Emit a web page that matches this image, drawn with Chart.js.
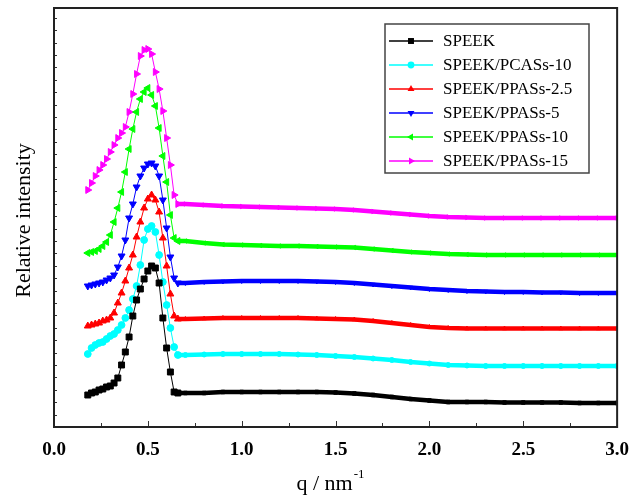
<!DOCTYPE html>
<html>
<head>
<meta charset="utf-8">
<script src="https://cdn.jsdelivr.net/npm/chart.js@4.4.1/dist/chart.umd.min.js"></script>
<style>
    html, body { margin: 0; padding: 0; background: #fff; }
    #wrap { width: 641px; height: 496px; }
</style>
</head>
<body>
<div id="wrap"><canvas id="myChart" width="641" height="496"></canvas></div>
<script>
// q values (nm^-1): fine steps across the peak, coarser across the plateau
const qPeak = [0.18, 0.20, 0.22, 0.24, 0.26, 0.28, 0.30, 0.32, 0.34, 0.36, 0.38, 0.40, 0.42,
               0.44, 0.46, 0.48, 0.50, 0.52, 0.54, 0.56, 0.58, 0.60, 0.62, 0.64, 0.66];
const qFlat = [0.7, 0.8, 0.9, 1.0, 1.1, 1.2, 1.3, 1.4, 1.5, 1.6, 1.7, 1.8, 1.9, 2.0,
               2.1, 2.2, 2.3, 2.4, 2.5, 2.6, 2.7, 2.8, 2.9, 3.0];

// relative intensity (arbitrary units, curves stacked with offsets)
const speekPeak = [32, 34, 35, 37, 38, 40, 41, 44, 49, 62, 75, 90, 111, 127, 138, 148, 156, 161, 159, 144, 109, 79, 55, 35, 34];
const speekFlat = [34, 34, 35, 35, 35, 35, 35, 35, 34.5, 33.5, 32, 30, 28, 26.5, 25, 25, 25, 24.5, 24.5, 24.5, 24.5, 24, 24, 24];

const pcas10Peak = [73, 79, 82, 84, 85, 88, 91, 93, 97, 102, 109, 117, 128, 141, 162, 187, 198, 201, 195, 172, 145, 122, 99, 80, 72];
const pcas10Flat = [72, 72.5, 73, 73, 73, 73, 72.5, 72, 71, 70, 68.5, 67, 65, 63.5, 62, 61.5, 61, 61, 61, 61, 61, 61, 61, 61];

const ppas25Peak = [101, 102, 103, 104, 106, 107, 109, 114, 124, 134, 146, 159, 172, 190, 205, 219, 228, 232, 227, 215, 189, 161, 133, 111, 108];
const ppas25Flat = [108, 108.5, 109, 109, 109, 109, 109, 108.5, 108, 107.5, 106, 104, 102, 100, 99, 98.5, 98.5, 98.5, 98.5, 98.5, 98.5, 98.5, 98.5, 98.5];

const ppas5Peak = [141, 142, 143, 144, 145, 147, 149, 152, 160, 171, 187, 209, 223, 240, 251, 259, 263, 264, 261, 251, 227, 199, 170, 149, 144];
const ppas5Flat = [144, 145, 145.5, 146, 146, 146, 146, 145.5, 145, 144, 142.5, 141, 139.5, 138, 137, 136, 135.5, 135, 135, 134.5, 134.5, 134, 134, 134];

const ppas10Peak = [174, 175, 176, 178, 181, 185, 192, 205, 219, 235, 255, 278, 298, 315, 328, 335, 339, 332, 321, 299, 271, 245, 212, 189, 186];
const ppas10Flat = [186, 184, 182.5, 182, 181.5, 181, 181, 180.5, 180, 179.5, 178, 176.5, 175, 174, 173, 172.5, 172, 172, 172, 172, 172, 172, 172, 172];

const ppas15Peak = [237, 244, 251, 257, 262, 268, 275, 282, 289, 294, 300, 315, 333, 353, 371, 377, 378, 373, 355, 338, 316, 289, 262, 232, 223];
const ppas15Flat = [223, 222, 221, 220.5, 220, 219.5, 219, 218.5, 218, 217, 215.5, 214, 212.5, 211, 210, 209.5, 209, 209, 209, 209, 209, 209, 209, 209];

const xTicks = [0, 0.5, 1.0, 1.5, 2.0, 2.5, 3.0];

const series = [
    { label: 'SPEEK',           color: '#000000', style: 'rect',     rot: 0,   r: 4.2, peak: speekPeak,  flat: speekFlat },
    { label: 'SPEEK/PCASs-10',  color: '#00FFFF', style: 'circle',   rot: 0,   r: 3.4, peak: pcas10Peak, flat: pcas10Flat },
    { label: 'SPEEK/PPASs-2.5', color: '#FF0000', style: 'triangle', rot: 0,   r: 4,   peak: ppas25Peak, flat: ppas25Flat },
    { label: 'SPEEK/PPASs-5',   color: '#0000FF', style: 'triangle', rot: 180, r: 4,   peak: ppas5Peak,  flat: ppas5Flat },
    { label: 'SPEEK/PPASs-10',  color: '#00FF00', style: 'triangle', rot: 270, r: 4,   peak: ppas10Peak, flat: ppas10Flat },
    { label: 'SPEEK/PPASs-15',  color: '#FF00FF', style: 'triangle', rot: 90,  r: 4,   peak: ppas15Peak, flat: ppas15Flat }
];

const qAll = qPeak.concat(qFlat);
const FLAT_START = 0.67;

const datasets = series.map(s => {
    const ys = s.peak.concat(s.flat);
    return {
        label: s.label,
        data: qAll.map((q, i) => ({ x: q, y: ys[i] })),
        borderColor: s.color,
        backgroundColor: s.color,
        borderWidth: 1,
        pointStyle: s.style,
        rotation: s.rot,
        pointBackgroundColor: s.color,
        pointBorderColor: s.color,
        pointBorderWidth: 1,
        pointRadius: c => (c.raw && c.raw.x > FLAT_START ? 2.5 : s.r),
        segment: {
            // the plateau is drawn with markers so dense they merge into a band
            borderWidth: c => (c.p0.parsed.x >= 0.66 ? 4.5 : 1)
        },
        tension: 0
    };
});

const serif = "'Liberation Serif', 'Times New Roman', serif";

function drawMarker(ctx, style, x, y, r, rot) {
    ctx.save();
    ctx.translate(x, y);
    ctx.rotate(rot * Math.PI / 180);
    ctx.beginPath();
    if (style === 'rect') {
        const s = r * Math.SQRT1_2;
        ctx.rect(-s, -s, 2 * s, 2 * s);
    } else if (style === 'circle') {
        ctx.arc(0, 0, r, 0, Math.PI * 2);
    } else {
        ctx.moveTo(0, -r);
        ctx.lineTo(r * 0.866, r * 0.5);
        ctx.lineTo(-r * 0.866, r * 0.5);
        ctx.closePath();
    }
    ctx.fill();
    ctx.restore();
}

// frame, inward ticks, axis titles and the boxed legend
const decorPlugin = {
    id: 'decor',
    afterDraw(chart) {
        const ctx = chart.ctx;
        const a = chart.chartArea;
        const xs = chart.scales.x;
        const ys = chart.scales.y;
        ctx.save();

        // ticks on the x axis (pointing inward)
        ctx.strokeStyle = '#333';
        ctx.lineWidth = 1;
        for (let v = 0; v <= 3.001; v += 0.25) {
            const px = Math.round(xs.getPixelForValue(v)) + 0.5;
            const major = Math.abs(v * 2 - Math.round(v * 2)) < 1e-6;
            ctx.beginPath();
            ctx.moveTo(px, a.bottom);
            ctx.lineTo(px, a.bottom - (major ? 6 : 4));
            ctx.stroke();
        }
        // minor ticks on the y axis
        for (let v = 12.4; v < ys.max; v += 12.4) {
            const py = Math.round(ys.getPixelForValue(v)) + 0.5;
            ctx.beginPath();
            ctx.moveTo(a.left, py);
            ctx.lineTo(a.left + 3, py);
            ctx.stroke();
        }

        // frame
        ctx.strokeStyle = '#222';
        ctx.lineWidth = 2;
        ctx.strokeRect(a.left, a.top, a.right - a.left, a.bottom - a.top);

        // y title
        ctx.fillStyle = '#000';
        ctx.font = '22px ' + serif;
        ctx.textAlign = 'center';
        ctx.textBaseline = 'middle';
        ctx.save();
        ctx.translate(24, (a.top + a.bottom) / 2 + 3);
        ctx.rotate(-Math.PI / 2);
        ctx.fillText('Relative intensity', 0, 0);
        ctx.restore();

        // x title with superscript
        ctx.textBaseline = 'alphabetic';
        ctx.textAlign = 'left';
        const main = 'q / nm';
        ctx.font = '22px ' + serif;
        const wMain = ctx.measureText(main).width;
        ctx.font = '13px ' + serif;
        const wSup = ctx.measureText('-1').width;
        const x0 = 330 - (wMain + wSup) / 2;
        ctx.font = '22px ' + serif;
        ctx.fillText(main, x0, 490);
        ctx.font = '13px ' + serif;
        ctx.fillText('-1', x0 + wMain + 1, 478);

        // legend
        const lx = 385, ly = 24, lw = 204, lh = 149;
        ctx.fillStyle = '#fff';
        ctx.fillRect(lx, ly, lw, lh);
        ctx.strokeStyle = '#444';
        ctx.lineWidth = 1.5;
        ctx.strokeRect(lx, ly, lw, lh);
        ctx.font = '17px ' + serif;
        ctx.textBaseline = 'middle';
        series.forEach((s, i) => {
            const rowY = 41 + i * 24;
            ctx.strokeStyle = s.color;
            ctx.lineWidth = 1.5;
            ctx.beginPath();
            ctx.moveTo(389, rowY);
            ctx.lineTo(433, rowY);
            ctx.stroke();
            ctx.fillStyle = s.color;
            drawMarker(ctx, s.style, 411, rowY, s.r, s.rot);
            ctx.fillStyle = '#000';
            ctx.fillText(s.label, 443, rowY + 1);
        });
        ctx.restore();
    }
};

const ctx = document.getElementById('myChart').getContext('2d');
const chart = new Chart(ctx, {
    type: 'line',
    data: { datasets: datasets },
    options: {
        responsive: false,
        animation: false,
        devicePixelRatio: 1,
        layout: { padding: { top: 8, right: 23, left: 0, bottom: 0 } },
        plugins: {
            legend: { display: false },
            tooltip: { enabled: false }
        },
        scales: {
            x: {
                type: 'linear',
                min: 0,
                max: 3,
                afterBuildTicks: scale => {
                    scale.ticks = xTicks.map(v => ({ value: v }));
                },
                afterFit: scale => { scale.height = 69; },
                grid: { display: false, drawTicks: false },
                border: { display: false },
                ticks: {
                    padding: 12,
                    color: '#000',
                    font: { family: serif, size: 19, weight: 'bold' },
                    callback: v => Number(v).toFixed(1),
                    maxRotation: 0
                }
            },
            y: {
                min: 0,
                max: 419,
                afterFit: scale => { scale.width = 54; },
                grid: { display: false, drawTicks: false },
                border: { display: false },
                ticks: { display: false }
            }
        }
    },
    plugins: [decorPlugin]
});
</script>
</body>
</html>
